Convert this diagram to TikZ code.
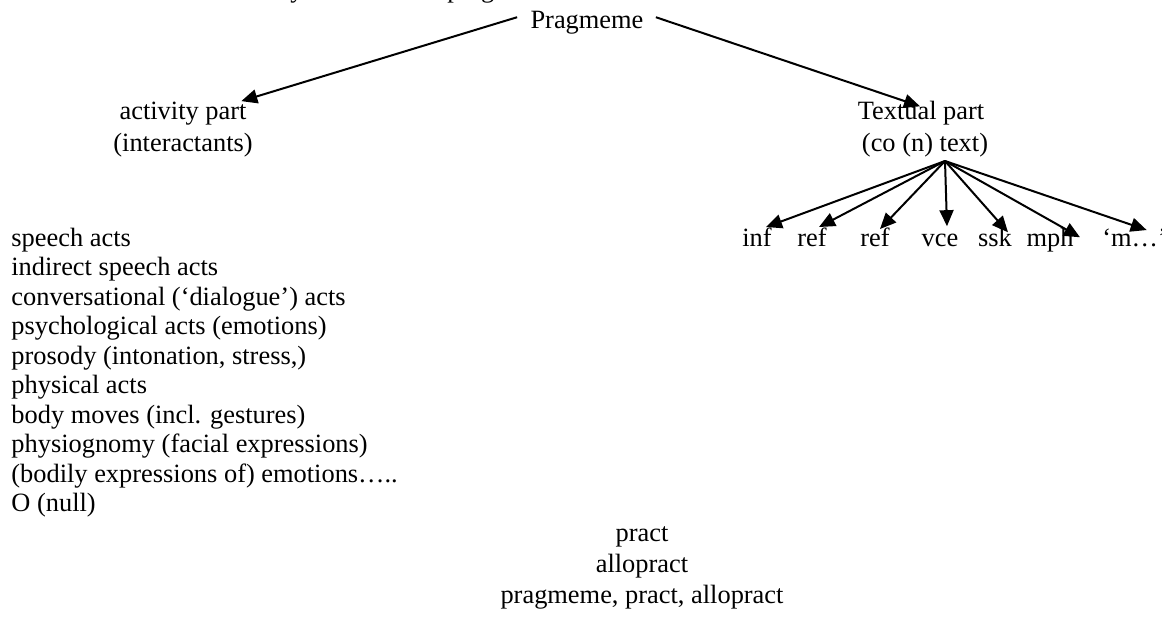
\documentclass[tikz,border=0pt]{standalone}
\usepackage{fontspec}
\setmainfont{Liberation Serif}
\usetikzlibrary{arrows.meta}
\begin{document}
\begin{tikzpicture}[x=0.5pt,y=-0.5pt,
  lab/.style={font=\fontsize{13.2pt}{14.5pt}\selectfont, inner sep=0pt, anchor=base},
  listitem/.style={lab, anchor=base west},
  arr/.style={-{Triangle[length=8pt,width=7pt]}, line width=1pt}]
\useasboundingbox (0,0) rectangle (1162,617);
\begin{scope}
  \clip (0,0) rectangle (1162,617);
  \node[listitem] (frag1) at (290,-3) {y};
  \node[listitem] (frag2) at (447,-3) {prag};
\end{scope}
% top
\node[lab] (prag) at (587,28) {Pragmeme};
% second level
\node[lab] (act1) at (183,119) {activity part};
\node[lab] (act2) at (183,151) {(interactants)};
\node[lab] (txt1) at (921,119) {Textual part};
\node[lab] (txt2) at (925,151) {(co (n) text)};
\draw[arr] ([xshift=-6.5pt,yshift=2.5pt]prag.west) -- ([xshift=-2.75pt]act1.north east);
\draw[arr] ([xshift=6pt,yshift=2.5pt]prag.east) -- ([xshift=-0.5pt,yshift=-3pt]txt1.north);
% left list
\foreach \t [count=\i from 0] in {speech acts, indirect speech acts,
  conversational (‘dialogue’) acts, psychological acts (emotions),
  {prosody (intonation, stress,)}, physical acts, body moves (incl. gestures),
  physiognomy (facial expressions), (bodily expressions of) emotions…..,
  O (null)}
  \node[listitem] (l\i) at (11,246+29.5*\i) {\t};
% textual labels
\coordinate (fan) at (945,161);
\node[lab] (inf) at (757,246) {inf};
\node[lab] (ref1) at (812,246) {ref};
\node[lab] (ref2) at (875,246) {ref};
\node[lab] (vce) at (940,246) {vce};
\node[lab] (ssk) at (995,246) {ssk};
\node[lab] (mph) at (1050,246) {mph};
\node[lab, anchor=base west] (mm) at (1102,246) {‘m…’};
\draw[arr] (fan) -- ([xshift=4.5pt]inf.north);
\draw[arr] (fan) -- ([xshift=3.5pt]ref1.north);
\draw[arr] (fan) -- ([xshift=2.5pt,yshift=-1pt]ref2.north);
\draw[arr] (fan) -- ([xshift=3.5pt,yshift=3.5pt]vce.north);
\draw[arr] (fan) -- ([xshift=6.5pt,yshift=-2.5pt]ssk.north);
\draw[arr] (fan) -- ([xshift=15pt,yshift=-5pt]mph.north);
\draw[arr] (fan) -- ([xshift=6pt,yshift=-1pt]mm.north);
% bottom
\node[lab] (pract) at (642,541) {pract};
\node[lab] (allo) at (642,572) {allopract};
\node[lab] (all3) at (642,603) {pragmeme, pract, allopract};
\end{tikzpicture}
\end{document}
